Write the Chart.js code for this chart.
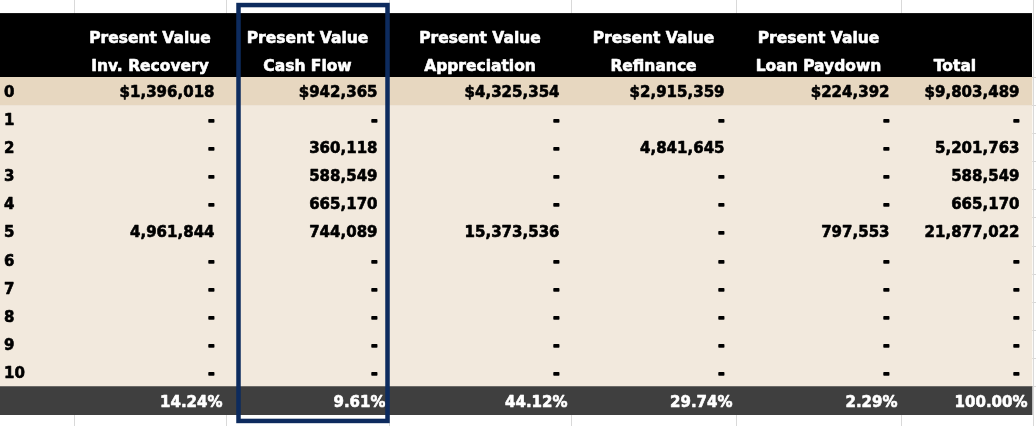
<!DOCTYPE html>
<html>
<head>
<meta charset="utf-8">
<script src="https://cdn.jsdelivr.net/npm/chart.js@4.4.1/dist/chart.umd.min.js"></script>
<style>
    html, body { margin: 0; padding: 0; background: #ffffff; }
    #caixa { width: 1036px; height: 426px; position: relative; }
</style>
</head>
<body>
<div id="caixa"><canvas id="tabela"></canvas></div>
<script>
'use strict';
// DADOS DA TABELA
const anos = ['0', '1', '2', '3', '4', '5', '6', '7', '8', '9', '10'];
const titulos1 = ['Present Value', 'Present Value', 'Present Value', 'Present Value', 'Present Value', ''];
const titulos2 = ['Inv. Recovery', 'Cash Flow', 'Appreciation', 'Refinance', 'Loan Paydown', 'Total'];

const invRecovery  = [1396018, 0, 0, 0, 0, 4961844, 0, 0, 0, 0, 0];
const cashFlow     = [942365, 0, 360118, 588549, 665170, 744089, 0, 0, 0, 0, 0];
const appreciation = [4325354, 0, 0, 0, 0, 15373536, 0, 0, 0, 0, 0];
const refinance    = [2915359, 0, 4841645, 0, 0, 0, 0, 0, 0, 0, 0];
const loanPaydown  = [224392, 0, 0, 0, 0, 797553, 0, 0, 0, 0, 0];
const total        = [9803489, 0, 5201763, 588549, 665170, 21877022, 0, 0, 0, 0, 0];
const percentuais  = [14.24, 9.61, 44.12, 29.74, 2.29, 100.00];

const colunas = [invRecovery, cashFlow, appreciation, refinance, loanPaydown, total];

// LAYOUT (unidades da escala x / linhas na escala y)
const bordas = [0, 74, 226, 389, 571, 736, 901, 1031];
const centrosTitulo = [150, 307.5, 480, 653.5, 818.5, 955];
const fimTabela = 1032;
const yMin = -3.256, yMax = 11.904;
const topoCabecalho = -2.79;
const linhaTitulo1 = -1.73, linhaTitulo2 = -0.73;
const colunaDestaque = 1;

const fonte = '700 15px "DejaVu Sans"';
const fonteTitulo = '700 15.5px "DejaVu Sans"';

function formatar(v, linha) {
    if (v === 0) return '-';
    const s = v.toLocaleString('en-US');
    return linha === 0 ? '$' + s : s;
}

// texto um pouco mais grosso, parecido com o do excel
function escrever(ctx, texto, px, py) {
    ctx.lineWidth = texto === '-' ? 1.6 : 0.6;
    ctx.strokeText(texto, px, py);
    ctx.fillText(texto, px, py);
}

// faixas das linhas (anos + rodape)
const linhas = anos.concat(['%']);
const faixas = linhas.map((_, i) => ({ y: i, x: [0, fimTabela] }));
const coresFaixa = linhas.map((_, i) => i === 0 ? '#e7d7c0' : (i === linhas.length - 1 ? '#3f3f3f' : '#f2e9dd'));

const desenhoTabela = {
    id: 'desenhoTabela',
    beforeDatasetsDraw(chart) {
        const { ctx, scales: { x, y } } = chart;
        ctx.save();
        ctx.fillStyle = '#000000';
        const topo = y.getPixelForValue(topoCabecalho);
        const base = y.getPixelForValue(-0.5);
        ctx.fillRect(x.getPixelForValue(0), topo, x.getPixelForValue(fimTabela) - x.getPixelForValue(0), base - topo);
        ctx.restore();
    },
    afterDatasetsDraw(chart) {
        const { ctx, scales: { x, y } } = chart;
        ctx.save();
        ctx.textBaseline = 'alphabetic';
        ctx.lineJoin = 'round';

        // cabecalho
        ctx.font = fonteTitulo;
        ctx.fillStyle = '#ffffff';
        ctx.strokeStyle = '#ffffff';
        ctx.textAlign = 'center';
        titulos1.forEach((t, c) => {
            escrever(ctx, t, x.getPixelForValue(centrosTitulo[c]), y.getPixelForValue(linhaTitulo1));
            escrever(ctx, titulos2[c], x.getPixelForValue(centrosTitulo[c]), y.getPixelForValue(linhaTitulo2));
        });

        // anos e valores
        ctx.font = fonte;
        ctx.fillStyle = '#000000';
        ctx.strokeStyle = '#000000';
        anos.forEach((ano, i) => {
            const py = y.getPixelForValue(i) + 5.5;
            ctx.textAlign = 'left';
            escrever(ctx, ano, x.getPixelForValue(4), py);
            ctx.textAlign = 'right';
            colunas.forEach((serie, c) => {
                escrever(ctx, formatar(serie[i], i), x.getPixelForValue(bordas[c + 2] - 11.5), py);
            });
        });

        // rodape com percentuais
        ctx.fillStyle = '#ffffff';
        ctx.strokeStyle = '#ffffff';
        ctx.textAlign = 'right';
        const pyRodape = y.getPixelForValue(anos.length) + 6;
        percentuais.forEach((p, c) => {
            escrever(ctx, p.toFixed(2) + '%', x.getPixelForValue(bordas[c + 2] - 3.5), pyRodape);
        });

        // destaque da coluna Cash Flow
        ctx.strokeStyle = '#0d2b5e';
        ctx.lineWidth = 4.5;
        ctx.lineJoin = 'miter';
        const x1 = x.getPixelForValue(bordas[colunaDestaque + 1] + 12.5);
        const x2 = x.getPixelForValue(bordas[colunaDestaque + 2] - 1.5);
        const y1 = y.getPixelForValue(yMin + 0.18);
        const y2 = y.getPixelForValue(yMax - 0.18);
        ctx.strokeRect(x1, y1, x2 - x1, y2 - y1);
        ctx.restore();
    }
};

const ctx = document.getElementById('tabela').getContext('2d');
const grafico = new Chart(ctx, {
    type: 'bar',
    plugins: [desenhoTabela],
    data: {
        datasets: [{
            data: faixas,
            backgroundColor: coresFaixa,
            borderWidth: 0,
            barPercentage: 1,
            categoryPercentage: 1
        }]
    },
    options: {
        indexAxis: 'y',
        responsive: true,
        maintainAspectRatio: false,
        animation: false,
        layout: { padding: 0 },
        plugins: {
            legend: { display: false },
            tooltip: { enabled: false }
        },
        scales: {
            x: {
                type: 'linear',
                min: 0,
                max: 1036,
                offset: false,
                afterBuildTicks: (eixo) => {
                    eixo.ticks = bordas.slice(1, -1).concat([fimTabela + 1]).map(v => ({ value: v }));
                },
                ticks: { display: false },
                border: { display: false },
                grid: { color: '#d9d9d9', lineWidth: 1, drawTicks: false, offset: false }
            },
            y: {
                type: 'linear',
                reverse: true,
                min: yMin,
                max: yMax,
                offset: false,
                afterBuildTicks: (eixo) => {
                    eixo.ticks = anos.map((_, i) => ({ value: i - 0.5 })).concat([{ value: anos.length - 0.5 }]);
                },
                ticks: { display: false },
                border: { display: false },
                grid: { color: '#d9d9d9', lineWidth: 1, drawTicks: false, offset: false }
            }
        }
    }
});
</script>
</body>
</html>
